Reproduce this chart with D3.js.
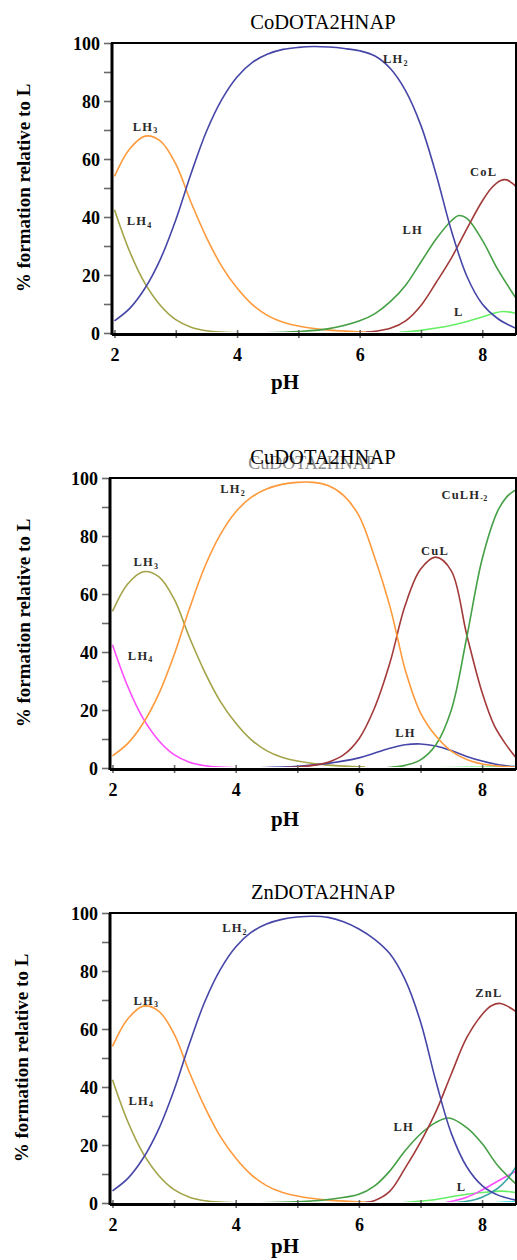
<!DOCTYPE html>
<html>
<head>
<meta charset="utf-8">
<script src="https://cdn.jsdelivr.net/npm/d3@7/dist/d3.min.js"></script>
<style>
  html, body { margin: 0; padding: 0; background: #fff; }
  svg { display: block; }
</style>
</head>
<body>
<div id="chart"></div>
<script>
// ---- data: [pH, % formation] ----
const yTicks = [0, 20, 40, 60, 80, 100];
const xTicks = [2, 4, 6, 8];

// CoDOTA2HNAP
const coLH4 = [[2,42.5],[2.25,28],[2.5,17],[2.75,9.5],[3,4.6],[3.25,2],[3.5,0.8],[3.75,0.3],[4,0.1]];
const coLH3 = [[2,54],[2.25,63.5],[2.5,67.9],[2.75,66.2],[3,58.3],[3.25,45],[3.5,33],[3.75,23],[4,15.5],[4.25,9.8],[4.5,6],[4.75,3.7],[5,2.4],[5.5,1],[6,0.4],[6.1,0.3]];
const coLH2 = [[2,4.2],[2.25,8.5],[2.5,15.5],[2.75,25.5],[3,39],[3.25,55],[3.5,69.5],[3.75,80.5],[4,88.3],[4.25,93.3],[4.5,96.2],[4.75,97.8],[5,98.5],[5.25,98.8],[5.5,98.6],[5.75,98.1],[6,97.3],[6.25,95.5],[6.5,91.2],[6.75,83.5],[7,71.5],[7.25,54.5],[7.5,35],[7.75,19.5],[8,10],[8.25,5],[8.55,1.6]];
const coLH = [[4.45,0.1],[5,0.5],[5.5,1.5],[6,4.2],[6.25,6.7],[6.5,10.8],[6.75,16.5],[7,24.5],[7.25,32.5],[7.5,38.8],[7.62,40.5],[7.75,39.5],[8,32],[8.25,22],[8.55,12]];
const coCoL = [[6.1,0.3],[6.25,0.6],[6.5,1.6],[6.75,4.2],[7,9.5],[7.25,17.5],[7.5,26],[7.75,36],[8,45.5],[8.15,50],[8.3,52.6],[8.4,52.8],[8.55,50.5]];
const coL = [[6.65,0.2],[7,0.9],[7.25,1.7],[7.5,2.7],[7.75,4],[8,5.5],[8.2,6.9],[8.35,7.4],[8.55,6.8]];

// CuDOTA2HNAP
const cuLH4 = [[2,42.5],[2.25,28],[2.5,17],[2.75,9.5],[3,4.6],[3.25,2],[3.5,0.8],[3.75,0.3],[4,0.1]];
const cuLH3 = [[2,54],[2.25,63.5],[2.5,67.7],[2.75,66],[3,58.3],[3.25,45],[3.5,33],[3.75,23],[4,15.5],[4.25,9.8],[4.5,6],[4.75,3.7],[5,2.4],[5.5,1],[6,0.4],[6.1,0.3]];
const cuLH2 = [[2,4.2],[2.25,8.5],[2.5,15.5],[2.75,25.5],[3,39],[3.25,55],[3.5,69.5],[3.75,80.5],[4,88.3],[4.25,93.3],[4.5,96.2],[4.75,97.8],[5,98.5],[5.25,98.5],[5.5,97.4],[5.75,94],[6,87],[6.25,73],[6.5,56],[6.62,45.5],[6.75,34],[7,19],[7.25,11],[7.5,5.8],[7.75,2.9],[8,1.4],[8.25,0.7],[8.55,0.3]];
const cuLH = [[4.4,0.1],[5,0.6],[5.5,1.6],[6,3.5],[6.5,6.8],[6.75,8],[7,8.3],[7.25,7.6],[7.5,6],[7.75,4],[8,2.4],[8.25,1.2],[8.55,0.4]];
const cuCuL = [[4.75,0.1],[5,0.3],[5.25,0.9],[5.5,2],[5.75,4.5],[6,10],[6.25,20.5],[6.5,36],[6.75,56],[7,68.5],[7.25,72.7],[7.5,68],[7.75,46],[8,26],[8.2,14.5],[8.4,7.7],[8.55,3.5]];
const cuCuLH2 = [[6.45,0.1],[6.75,0.9],[7,2.8],[7.25,8],[7.5,20],[7.75,45],[8,72],[8.25,88.5],[8.4,93.5],[8.55,96]];
const cuL = [[7.25,0.1],[7.75,0.2],[8.25,0.35],[8.55,0.45]];
const cuOther = [[8.1,0.1],[8.55,0.6]];

// ZnDOTA2HNAP
const znLH4 = [[2,42.5],[2.25,28],[2.5,17],[2.75,9.5],[3,4.6],[3.25,2],[3.5,0.8],[3.75,0.3],[4,0.1]];
const znLH3 = [[2,54],[2.25,63.5],[2.5,67.9],[2.75,66.2],[3,58.3],[3.25,45],[3.5,33],[3.75,23],[4,15.5],[4.25,9.8],[4.5,6],[4.75,3.7],[5,2.4],[5.5,1],[6,0.4],[6.1,0.3]];
const znLH2 = [[2,4.2],[2.25,8.5],[2.5,15.5],[2.75,25.5],[3,39],[3.25,55],[3.5,69.5],[3.75,80.5],[4,88.3],[4.25,93.3],[4.5,96.2],[4.75,97.8],[5,98.6],[5.25,98.9],[5.5,98.5],[5.75,97],[6,94.5],[6.25,91],[6.5,86],[6.75,77],[7,62.5],[7.25,42],[7.5,24],[7.75,12.5],[8,6],[8.25,2.8],[8.55,1]];
const znLH = [[4.4,0.1],[5,0.4],[5.5,1.2],[6,3],[6.25,5.8],[6.5,11],[6.75,18],[7,23.8],[7.25,27.8],[7.46,29.3],[7.75,26],[8,20.5],[8.25,13],[8.55,6.5]];
const znZnL = [[6.1,0.2],[6.25,0.8],[6.5,4],[6.75,12],[7,21],[7.25,31.5],[7.5,44.5],[7.75,57],[8,65],[8.15,68],[8.3,68.8],[8.55,66]];
const znL = [[6.7,0.1],[7.25,1.2],[7.62,2.6],[8,3.6],[8.33,4.1],[8.55,3.6]];
const znM1 = [[7.4,0.1],[7.75,2],[8,4.5],[8.25,7.5],[8.55,11]];
const znM2 = [[7.5,0.1],[7.75,0.6],[8,2],[8.25,5],[8.4,8],[8.55,12.5]];
const znM3 = [[8.2,0.1],[8.55,0.5]];

// species labels: [name, subscript, pH, %]
const coLabels = [["LH","3",2.30,69.8],["LH","4",2.20,37.2],["LH","2",6.38,93.1],["CoL","",7.80,54.1],["LH","",6.70,34.1],["L","",7.54,5.7]];
const cuLabels = [["LH","2",3.75,94.8],["LH","3",2.34,69.6],["LH","4",2.25,37.3],["CuLH","-2",7.34,92.8],["CuL","",7.01,73.5],["LH","",6.59,10.7]];
const znLabels = [["LH","2",3.78,93.4],["LH","3",2.34,68.3],["LH","4",2.26,33.8],["ZnL","",7.89,71.2],["LH","",6.56,24.7],["L","",7.59,4.0]];

const C = {
  orange: "#ff9a3c", olive: "#a3a348", blue: "#4646a8", green: "#45a045",
  red: "#a33a3a", lime: "#66ee66", magenta: "#ff4cff", teal: "#3aa6a6", cyan: "#33dddd"
};

const panels = [
  { title: "CoDOTA2HNAP", top: 43, left: 112, yLabX: 30, pHy: 389,
    series: [[coLH4, C.olive], [coLH3, C.orange], [coL, C.lime], [coLH, C.green], [coCoL, C.red], [coLH2, C.blue]],
    labels: coLabels },
  { title: "CuDOTA2HNAP", top: 478, left: 110, yLabX: 30, pHy: 826, ghost: true,
    series: [[cuL, C.lime], [cuOther, C.cyan], [cuLH4, C.magenta], [cuLH3, C.olive], [cuLH, C.blue], [cuCuL, C.red], [cuCuLH2, C.green], [cuLH2, C.orange]],
    labels: cuLabels },
  { title: "ZnDOTA2HNAP", top: 913, left: 110, yLabX: 28, pHy: 1253,
    series: [[znM3, C.cyan], [znL, C.lime], [znM1, C.magenta], [znM2, C.teal], [znLH4, C.olive], [znLH3, C.orange], [znLH, C.green], [znZnL, C.red], [znLH2, C.blue]],
    labels: znLabels }
];

const W = 517, H = 1260;
const RIGHT = 516, PH = 290;
const serif = "'Liberation Serif', 'Times New Roman', serif";

const svg = d3.select("#chart").append("svg").attr("width", W).attr("height", H);

panels.forEach((p, i) => {
  const g = svg.append("g").attr("class", "panel");
  const bottom = p.top + PH;
  const x = d3.scaleLinear().domain([1.96, 8.55]).range([p.left, RIGHT]);
  const y = d3.scaleLinear().domain([0, 100]).range([bottom, p.top]);

  // title (the Cu one has a misprinted ghost copy behind it)
  if (p.ghost) {
    g.append("text").attr("x", 312).attr("y", p.top - 9)
      .attr("text-anchor", "middle").attr("font-family", serif).attr("font-size", 18)
      .attr("fill", "#8a8a8a").text(p.title);
  }
  g.append("text").attr("x", 323).attr("y", p.top - 14)
    .attr("text-anchor", "middle").attr("font-family", serif).attr("font-size", 20.5)
    .attr("fill", "#000").text(p.title);

  // curves
  const clipId = "clip" + i;
  g.append("clipPath").attr("id", clipId).append("rect")
    .attr("x", p.left).attr("y", p.top - 2).attr("width", RIGHT - p.left).attr("height", PH + 1);
  const line = d3.line().x(d => x(d[0])).y(d => y(d[1])).curve(d3.curveCatmullRom.alpha(0.5));
  g.append("g").attr("clip-path", `url(#${clipId})`)
    .selectAll("path").data(p.series).join("path")
    .attr("d", d => line(d[0]))
    .attr("fill", "none").attr("stroke", d => d[1]).attr("stroke-width", 1.6);

  // y axis with minor ticks
  const yAxis = g.append("g").attr("transform", `translate(${p.left - 1},0)`)
    .call(d3.axisLeft(y).tickValues(d3.range(0, 101, 10))
      .tickFormat(d => yTicks.includes(d) ? d : "").tickSize(7).tickPadding(4));
  yAxis.select(".domain").remove();
  yAxis.selectAll(".tick line").attr("stroke", "#6a6a6a").attr("stroke-width", 1.6);
  yAxis.selectAll(".tick text").attr("font-family", serif).attr("font-size", 18)
    .attr("font-weight", "bold").attr("fill", "#000").attr("dy", "0.34em");

  // x axis with minor ticks
  const xAxis = g.append("g").attr("transform", `translate(0,${bottom + 1})`)
    .call(d3.axisBottom(x).tickValues(d3.range(2, 9, 1))
      .tickFormat(d => xTicks.includes(d) ? d : "").tickSize(4).tickPadding(10));
  xAxis.select(".domain").remove();
  xAxis.selectAll(".tick line").attr("y1", -4).attr("stroke", "#6a6a6a").attr("stroke-width", 1.6);
  xAxis.selectAll(".tick text").attr("font-family", serif).attr("font-size", 18)
    .attr("font-weight", "bold").attr("fill", "#000");

  // frame
  g.append("rect").attr("x", p.left).attr("y", p.top)
    .attr("width", RIGHT - p.left).attr("height", PH + 1)
    .attr("fill", "none").attr("stroke", "#000").attr("stroke-width", 2);
  g.append("line").attr("x1", p.left).attr("x2", p.left).attr("y1", p.top).attr("y2", bottom + 2)
    .attr("stroke", "#000").attr("stroke-width", 3);
  g.append("line").attr("x1", p.left).attr("x2", RIGHT).attr("y1", bottom + 1.5).attr("y2", bottom + 1.5)
    .attr("stroke", "#000").attr("stroke-width", 3);

  // axis titles
  g.append("text").attr("x", 285).attr("y", p.pHy).attr("text-anchor", "middle")
    .attr("font-family", serif).attr("font-size", 21).attr("font-weight", "bold").text("pH");
  g.append("text")
    .attr("transform", `translate(${p.yLabX},${p.top + 145}) rotate(-90)`)
    .attr("text-anchor", "middle").attr("font-family", serif).attr("font-size", 19)
    .attr("font-weight", "bold").text("% formation relative to L");

  // species labels
  const lab = g.selectAll("text.species").data(p.labels).join("text")
    .attr("class", "species")
    .attr("x", d => x(d[2])).attr("y", d => y(d[3]))
    .attr("font-family", serif).attr("font-size", 12.5).attr("font-weight", "bold")
    .attr("letter-spacing", 1.2).attr("fill", "#2a2a2a");
  lab.append("tspan").text(d => d[0]);
  lab.filter(d => d[1]).append("tspan")
    .attr("font-size", 8).attr("dy", 2.5).attr("letter-spacing", 0.3).text(d => d[1]);
});
</script>
</body>
</html>
